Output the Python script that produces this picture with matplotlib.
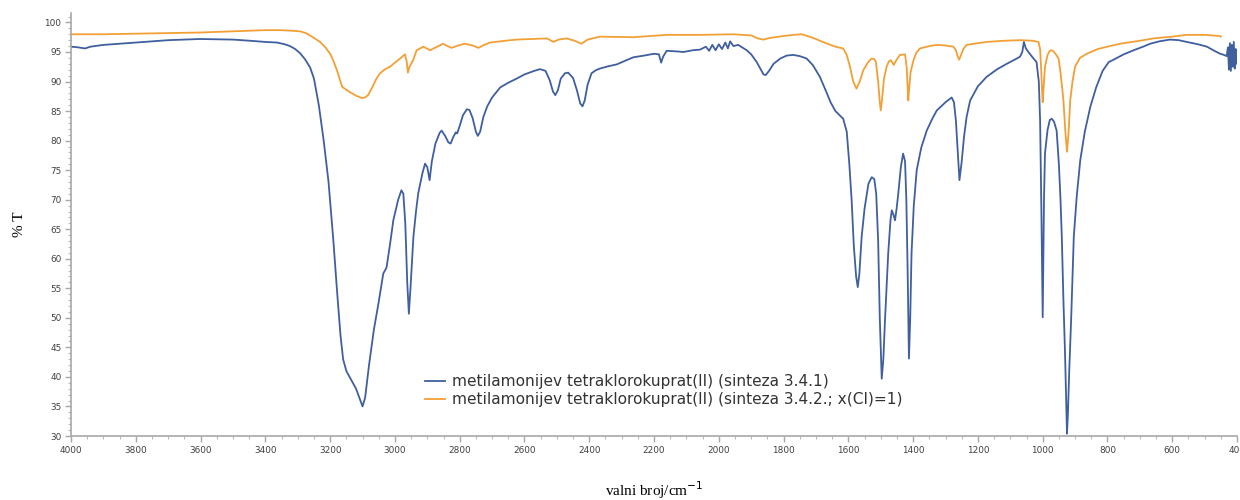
import matplotlib.pyplot as plt
from matplotlib.ticker import MultipleLocator

# IR spektri: valni broj (cm-1) i transmitancija (%T)
blue_cm = [4000, 3980, 3957, 3940, 3900, 3800, 3700, 3602, 3500, 3447, 3400, 3364, 3340, 3324, 3308,
           3293, 3278, 3262, 3250, 3235, 3220, 3205, 3190, 3178, 3168, 3160, 3150, 3135, 3120, 3110,
           3100, 3092, 3080, 3065, 3051, 3036, 3026, 3015, 3005, 2990, 2980, 2974, 2968, 2962, 2957,
           2952, 2943, 2935, 2928, 2915, 2907, 2900, 2893, 2886, 2875, 2862, 2856, 2845, 2835, 2828,
           2820, 2812, 2808, 2800, 2790, 2778, 2770, 2760, 2750, 2744, 2737, 2727, 2715, 2700, 2675,
           2650, 2624, 2600, 2570, 2552, 2535, 2522, 2512, 2505, 2497, 2488, 2475, 2465, 2450, 2438,
           2428, 2421, 2414, 2405, 2393, 2380, 2367, 2340, 2315, 2290, 2264, 2230, 2200, 2185, 2178,
           2172, 2161, 2130, 2109, 2080, 2058, 2040, 2030, 2020, 2010, 2000, 1990, 1980, 1972, 1965,
           1955, 1940, 1914, 1900, 1883, 1870, 1862, 1855, 1845, 1831, 1810, 1790, 1770, 1750, 1729,
           1710, 1688, 1670, 1655, 1640, 1625, 1616, 1605, 1597, 1590, 1583, 1576, 1571, 1566, 1559,
           1550, 1538, 1528, 1520, 1514, 1508, 1503, 1497, 1492, 1487, 1477, 1470, 1466, 1461, 1456,
           1451, 1446, 1438, 1431, 1425, 1421, 1417, 1413, 1409, 1405, 1398, 1389, 1375, 1358, 1340,
           1327, 1300, 1281, 1274, 1268, 1262, 1257, 1250, 1243, 1235, 1224, 1200, 1173, 1140, 1111,
           1090, 1070, 1063, 1058, 1052, 1044, 1030, 1019, 1012, 1008, 1004, 1001, 1000, 998, 996,
           993, 985, 978, 972, 965, 957, 950, 945, 941, 936, 931, 928, 925, 922, 918,
           912, 904, 895, 884, 870, 853, 835, 815, 796, 781, 750, 719, 690, 668, 640,
           607, 580, 555, 520, 493, 470, 452, 440, 432, 428, 425, 422, 419, 416, 413,
           410, 407, 404, 401, 400]
blue_T = [95.9, 95.8, 95.6, 95.9, 96.2, 96.6, 97.0, 97.2, 97.1, 96.9, 96.7, 96.6, 96.3, 96.0, 95.5,
          94.8, 93.8, 92.4, 90.5, 86.0, 80.0, 73.0, 63.0, 54.0, 47.0, 43.0, 41.0, 39.5, 38.0, 36.5,
          35.0, 36.5, 42.0, 48.0, 52.4, 57.5, 58.5, 62.5, 66.5, 70.0, 71.6, 71.0, 66.0, 56.0, 50.7,
          55.0, 63.7, 68.0, 71.1, 74.5, 76.1, 75.5, 73.3, 76.5, 79.5, 81.3, 81.7, 80.8, 79.7, 79.5,
          80.6, 81.4, 81.2, 82.5, 84.3, 85.3, 85.2, 83.8, 81.5, 80.8, 81.5, 84.0, 85.8, 87.3, 89.0,
          89.8, 90.5, 91.2, 91.8, 92.1, 91.8, 90.2, 88.3, 87.7, 88.5, 90.5, 91.4, 91.5, 90.6, 88.5,
          86.3, 85.8, 86.8, 89.5, 91.4, 91.9, 92.2, 92.6, 92.9, 93.5, 94.1, 94.4, 94.7, 94.6, 93.2,
          94.2, 95.2, 95.1, 95.0, 95.3, 95.4, 95.9, 95.2, 96.2, 95.3, 96.3, 95.5, 96.6, 95.6, 96.8,
          96.0, 96.2, 95.3, 94.6, 93.3, 92.0, 91.2, 91.1, 91.8, 93.0, 93.9, 94.4, 94.5, 94.3, 93.9,
          92.8, 90.8, 88.5, 86.5, 85.0, 84.2, 83.7, 81.5, 76.0, 70.0, 62.0, 57.0, 55.2, 57.5, 63.7,
          68.5, 72.7, 73.8, 73.5, 71.0, 63.0, 50.0, 39.7, 43.0, 49.5, 60.9, 66.5, 68.2, 67.5, 66.5,
          68.5, 71.0, 75.5, 77.8, 76.5, 70.0, 58.0, 43.1, 50.0, 60.9, 69.0, 75.0, 78.8, 81.7, 83.8,
          85.1, 86.5, 87.3, 86.5, 83.4, 78.0, 73.3, 76.5, 80.6, 84.0, 86.8, 89.2, 90.8, 92.1, 93.0,
          93.6, 94.2, 95.0, 96.7, 95.6, 95.0, 94.0, 93.3, 90.0, 83.4, 68.0, 55.0, 50.1, 60.0, 70.0,
          77.8, 81.8, 83.5, 83.7, 83.2, 81.7, 76.0, 70.0, 63.7, 53.0, 43.9, 37.0, 30.4, 34.0, 41.1,
          50.0, 63.7, 70.5, 76.7, 81.5, 85.7, 89.0, 91.8, 93.3, 93.7, 94.6, 95.3, 95.9, 96.4, 96.8,
          97.1, 97.0, 96.7, 96.3, 95.9, 95.2, 94.7, 94.5, 94.3, 95.8, 92.0, 96.5, 91.8, 96.2, 92.5,
          96.7, 92.2, 95.5, 93.0, 95.0]

orange_cm = [4000, 3900, 3800, 3700, 3600, 3500, 3400, 3355, 3320, 3293, 3275, 3262, 3245, 3231, 3215,
             3200, 3190, 3179, 3170, 3163, 3150, 3139, 3120, 3102, 3092, 3083, 3070, 3058, 3046, 3030,
             3015, 3000, 2984, 2969, 2964, 2960, 2955, 2944, 2933, 2912, 2892, 2870, 2851, 2838, 2825,
             2805, 2784, 2760, 2742, 2725, 2706, 2660, 2624, 2580, 2531, 2520, 2511, 2495, 2470, 2445,
             2424, 2405, 2367, 2264, 2161, 2058, 1955, 1900, 1880, 1862, 1840, 1800, 1770, 1744, 1720,
             1700, 1688, 1660, 1640, 1616, 1605, 1595, 1585, 1575, 1565, 1554, 1540, 1528, 1520, 1515,
             1508, 1503, 1500, 1496, 1490, 1482, 1475, 1469, 1464, 1460, 1452, 1441, 1425, 1420, 1417,
             1415, 1412, 1408, 1399, 1390, 1379, 1350, 1327, 1300, 1276, 1268, 1262, 1258, 1252, 1245,
             1235, 1200, 1173, 1120, 1070, 1030, 1013, 1008, 1005, 1002, 1000, 997, 993, 985, 978,
             972, 965, 958, 951, 945, 940, 936, 930, 925, 920, 915, 908, 900, 885, 864,
             830, 800, 761, 700, 658, 600, 555, 500, 452, 450]
orange_T = [98.0, 98.0, 98.1, 98.2, 98.3, 98.5, 98.7, 98.7, 98.6, 98.5, 98.2, 97.8, 97.2, 96.7, 95.8,
            94.7, 93.5, 91.9, 90.3, 89.1, 88.6, 88.2, 87.6, 87.2, 87.3, 87.7, 89.0, 90.4, 91.4, 92.1,
            92.5, 93.2, 93.9, 94.6, 93.5, 91.5, 92.5, 93.6, 95.3, 95.9, 95.3, 95.9, 96.4, 96.0, 95.7,
            96.1, 96.4, 96.1, 95.7, 96.2, 96.6, 96.9, 97.1, 97.2, 97.3, 97.0, 96.7, 97.1, 97.3, 96.9,
            96.4, 97.1, 97.6, 97.5, 97.9, 97.9, 98.0, 97.8, 97.3, 97.1, 97.4, 97.7, 97.9, 98.0, 97.6,
            97.2, 96.9, 96.3, 95.9, 95.6, 94.5, 92.5, 90.0, 88.8, 90.0, 91.9, 93.2, 93.9, 93.8, 93.3,
            90.0, 86.5, 85.1, 87.0, 90.5, 92.5, 93.4, 93.6, 93.2, 92.8, 93.6, 94.5, 94.6, 92.5, 89.0,
            86.8, 89.0, 91.5, 93.6, 94.9, 95.6, 96.0, 96.2, 96.1, 95.9, 95.3, 94.2, 93.7, 94.5, 95.5,
            96.2, 96.5, 96.7, 96.9, 97.0, 96.9, 96.7, 95.5, 92.5, 88.5, 86.5, 89.0, 92.5, 94.5, 95.2,
            95.3, 95.0, 94.5, 93.9, 91.5, 89.0, 86.8, 81.5, 78.1, 81.5, 86.8, 90.0, 92.5, 94.0, 94.7,
            95.5, 95.9, 96.4, 96.9, 97.3, 97.6, 97.9, 97.9, 97.7, 97.6]

labels = ['metilamonijev tetraklorokuprat(II) (sinteza 3.4.1)',
          'metilamonijev tetraklorokuprat(II) (sinteza 3.4.2.; x(Cl)=1)']

fig = plt.figure(figsize=(12.4, 5.0), dpi=100)
ax = fig.add_axes([0.0573, 0.128, 0.9403, 0.846])

ax.plot(blue_cm, blue_T, color='#3f5f9f', lw=1.3, label=labels[0])
ax.plot(orange_cm, orange_T, color='#f2a036', lw=1.3, label=labels[1])

ax.set_xlim(4000, 400)
ax.set_ylim(30, 101.6)
ax.xaxis.set_major_locator(MultipleLocator(200))
ax.xaxis.set_minor_locator(MultipleLocator(50))
ax.yaxis.set_major_locator(MultipleLocator(5))
ax.yaxis.set_minor_locator(MultipleLocator(1))

for s in ['top', 'right']:
    ax.spines[s].set_visible(False)
for s in ['left', 'bottom']:
    ax.spines[s].set_color('#a8a8a8')
    ax.spines[s].set_linewidth(1.2)

ax.tick_params(which='major', length=4, width=1, color='#a8a8a8', labelsize=6.4,
               labelcolor='#404040', pad=3)
ax.tick_params(which='minor', length=2.5, width=0.8, color='#b8b8b8')

ax.set_xlabel('valni broj/cm$^{-1}$', family='Liberation Serif', fontsize=11, labelpad=18)
ax.set_ylabel('% T', family='Liberation Serif', fontsize=11, labelpad=13)

leg = ax.legend(loc='upper left', bbox_to_anchor=(0.298, 0.16), frameon=False,
                fontsize=11.1, handlelength=1.3, handletextpad=0.45, labelspacing=0.18,
                borderaxespad=0)
for t in leg.get_texts():
    t.set_color('#333333')

fig.savefig('out.png', dpi=100)
